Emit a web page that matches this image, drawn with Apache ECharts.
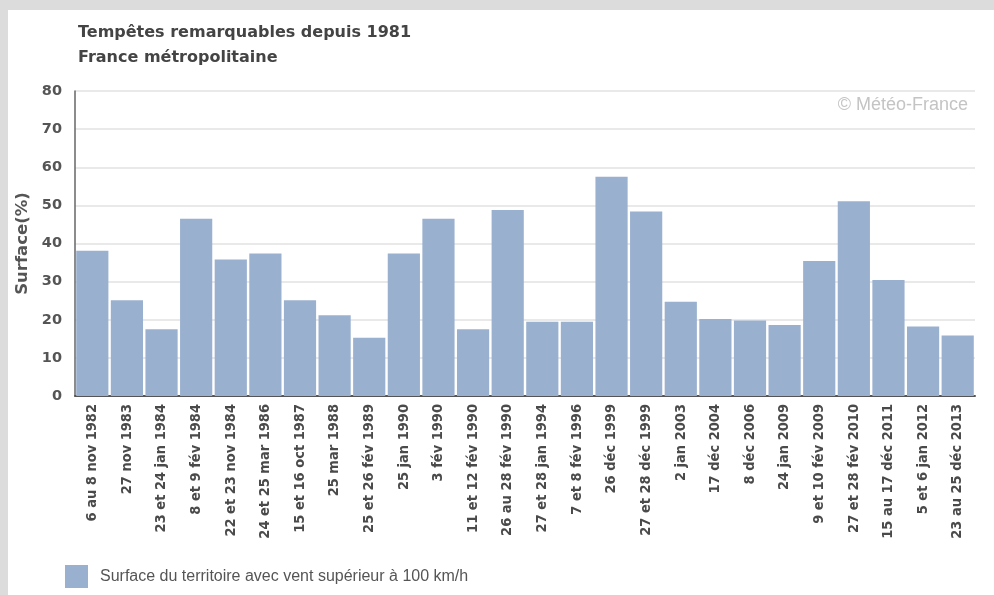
<!DOCTYPE html>
<html>
<head>
<meta charset="utf-8">
<title>Tempêtes remarquables depuis 1981</title>
<script src="https://cdn.jsdelivr.net/npm/echarts@6/dist/echarts.min.js"></script>
<style>
    html, body { margin: 0; padding: 0; background: #dcdcdc; }
    #chart { width: 994px; height: 595px; }
</style>
</head>
<body>
<div id="chart"></div>
<script>
// Storm events (x axis)
const storms = [
    '6 au 8 nov 1982', '27 nov 1983', '23 et 24 jan 1984', '8 et 9 fév 1984',
    '22 et 23 nov 1984', '24 et 25 mar 1986', '15 et 16 oct 1987', '25 mar 1988',
    '25 et 26 fév 1989', '25 jan 1990', '3 fév 1990', '11 et 12 fév 1990',
    '26 au 28 fév 1990', '27 et 28 jan 1994', '7 et 8 fév 1996', '26 déc 1999',
    '27 et 28 déc 1999', '2 jan 2003', '17 déc 2004', '8 déc 2006',
    '24 jan 2009', '9 et 10 fév 2009', '27 et 28 fév 2010', '15 au 17 déc 2011',
    '5 et 6 jan 2012', '23 au 25 déc 2013'
];

// Surface du territoire (%) with wind > 100 km/h
const surface = [
    38.1, 25.1, 17.5, 46.5, 35.8, 37.4, 25.1, 21.2, 15.3, 37.4, 46.5, 17.5,
    48.8, 19.5, 19.5, 57.5, 48.4, 24.7, 20.2, 19.8, 18.6, 35.4, 51.1, 30.4,
    18.2, 15.9
];

const seriesName = 'Surface du territoire avec vent supérieur à 100 km/h';
const BAR_COLOR = '#9ab0cf';
const TEXT_COLOR = '#555555';
const BOLD_FONT = '"DejaVu Sans", sans-serif';
const NARROW_FONT = '"DejaVu Sans Condensed", sans-serif';
const PLAIN_FONT = '"Liberation Sans", Arial, sans-serif';

const chart = echarts.init(document.getElementById('chart'));

chart.setOption({
    animation: false,
    backgroundColor: 'transparent',
    graphic: [
        // white panel, grey frame shows on top and left
        {
            type: 'rect',
            left: 8, top: 10,
            shape: { width: 986, height: 585 },
            style: { fill: '#ffffff' },
            z: -10
        },
        {
            type: 'text',
            right: 26, top: 96,
            style: {
                text: '© Météo-France',
                fill: '#c4c4c4',
                font: '18px "Liberation Sans", Arial, sans-serif'
            }
        }
    ],
    title: {
        text: 'Tempêtes remarquables depuis 1981',
        subtext: 'France métropolitaine',
        left: 73,
        top: 20,
        itemGap: 9,
        textStyle: {
            color: '#444444',
            fontFamily: BOLD_FONT,
            fontWeight: 'bold',
            fontSize: 16
        },
        subtextStyle: {
            color: '#444444',
            fontFamily: BOLD_FONT,
            fontWeight: 'bold',
            fontSize: 16
        }
    },
    legend: {
        left: 60,
        top: 560,
        icon: 'rect',
        itemWidth: 23,
        itemHeight: 23,
        itemGap: 10,
        textStyle: {
            color: TEXT_COLOR,
            fontSize: 16,
            fontFamily: PLAIN_FONT,
            padding: [0, 0, 0, 7]
        },
        data: [seriesName]
    },
    grid: {
        left: 75,
        right: 19,
        top: 91,
        bottom: 199
    },
    xAxis: {
        type: 'category',
        data: storms,
        axisLine: { lineStyle: { color: '#555555', width: 2 } },
        axisTick: { show: false },
        axisLabel: {
            interval: 0,
            rotate: 90,
            margin: 8,
            color: '#4a4a4a',
            fontFamily: NARROW_FONT,
            fontWeight: 'bold',
            fontSize: 14.5
        }
    },
    yAxis: {
        type: 'value',
        min: 0,
        max: 80,
        interval: 10,
        name: 'Surface(%)',
        nameLocation: 'middle',
        nameGap: 40,
        nameTextStyle: {
            color: TEXT_COLOR,
            fontFamily: BOLD_FONT,
            fontWeight: 'bold',
            fontSize: 16.5
        },
        axisLine: { show: true, lineStyle: { color: '#666666', width: 1.5 } },
        axisTick: { show: false },
        splitLine: { lineStyle: { color: '#e2e2e2', width: 1.5 } },
        axisLabel: {
            margin: 13,
            color: TEXT_COLOR,
            fontFamily: BOLD_FONT,
            fontWeight: 'bold',
            fontSize: 14.5
        }
    },
    series: [{
        name: seriesName,
        type: 'bar',
        data: surface,
        barCategoryGap: '7%',
        itemStyle: { color: BAR_COLOR }
    }]
});
</script>
</body>
</html>
